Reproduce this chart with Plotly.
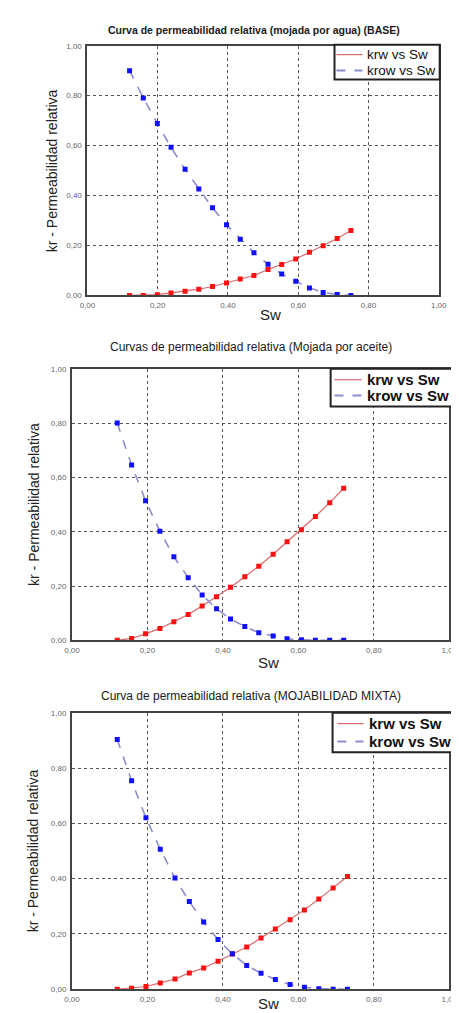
import plotly.graph_objects as go

# ---------------- data ----------------
titles = [
    "Curva de permeabilidad relativa (mojada por agua) (BASE)",
    "Curvas de permeabilidad relativa (Mojada por aceite)",
    "Curva de permeabilidad relativa (MOJABILIDAD MIXTA)",
]

sw_base = [0.120, 0.159, 0.199, 0.238, 0.278, 0.317, 0.356, 0.396, 0.435,
           0.474, 0.514, 0.553, 0.593, 0.632, 0.671, 0.711, 0.750]
krw_base = [0.000, 0.000, 0.003, 0.010, 0.017, 0.025, 0.036, 0.050, 0.066,
            0.080, 0.104, 0.124, 0.146, 0.173, 0.199, 0.228, 0.260]
krow_base = [0.900, 0.791, 0.689, 0.593, 0.505, 0.426, 0.351, 0.283, 0.225,
             0.171, 0.125, 0.086, 0.057, 0.030, 0.012, 0.004, 0.000]

sw_oil = [0.120, 0.158, 0.195, 0.233, 0.270, 0.308, 0.345, 0.383, 0.420,
          0.458, 0.495, 0.533, 0.570, 0.608, 0.645, 0.683, 0.720]
krw_oil = [0.000, 0.007, 0.024, 0.044, 0.069, 0.095, 0.127, 0.161, 0.196,
           0.234, 0.273, 0.317, 0.363, 0.407, 0.456, 0.507, 0.560]
krow_oil = [0.800, 0.646, 0.514, 0.402, 0.308, 0.231, 0.167, 0.116, 0.079,
            0.051, 0.028, 0.016, 0.006, 0.002, 0.000, 0.000, 0.000]

sw_mix = [0.120, 0.158, 0.196, 0.234, 0.273, 0.311, 0.349, 0.387, 0.425,
          0.463, 0.501, 0.539, 0.578, 0.616, 0.654, 0.692, 0.730]
krw_mix = [0.000, 0.004, 0.010, 0.023, 0.037, 0.059, 0.077, 0.101, 0.127,
           0.153, 0.185, 0.218, 0.251, 0.287, 0.326, 0.366, 0.408]
krow_mix = [0.903, 0.754, 0.620, 0.506, 0.402, 0.317, 0.243, 0.180, 0.128,
            0.086, 0.058, 0.035, 0.017, 0.007, 0.002, 0.000, 0.000]

series_names = ["krw vs Sw", "krow vs Sw"]
tick_vals = [0.0, 0.2, 0.4, 0.6, 0.8, 1.0]

datasets = [
    (sw_base, krw_base, krow_base),
    (sw_oil, krw_oil, krow_oil),
    (sw_mix, krw_mix, krow_mix),
]

# ---------------- layout geometry ----------------
W, H = 459, 1013
# pixel boxes: (x0, x1, ytop, ybottom)
boxes = [(74, 438, 34, 286), (58, 449, 360, 634), (58, 449, 707, 986)]
title_pos = [(247, 18), (243, 338), (244, 690)]
title_size = [10.5, 12, 12]
title_weight = ["bold", "normal", "normal"]
sw_label_y = [305, 656, 1000]
ytitle_x = [37, 18, 18]
# legend geometry: box (x0, y0, x1, y1), sample line x0, x1, text x, row ys
legend_box = [(330, 33, 439, 68), (326, 360, 452, 398), (328, 707, 452, 747)]
legend_line_x = [(332, 359), (330, 358), (333, 360)]
legend_text_x = [362, 362, 364]
legend_rows = [(43, 59), (371, 387), (718, 736)]
legend_font = [13.5, 15, 15]
legend_weight = ["normal", "bold", "bold"]

RED = "#ff1010"
RED_LINE = "#d66a6a"
BLUE = "#1010ff"
BLUE_LINE = "#8c8cd0"

fig = go.Figure()
annotations = []
shapes = []


def px(xp):
    return xp / W


def py(yp):
    return 1 - yp / H


for i, (sw, krw, krow) in enumerate(datasets):
    n = "" if i == 0 else str(i + 1)
    xa, ya = "x" + n, "y" + n
    fig.add_trace(go.Scatter(x=sw, y=krw, mode="lines", name=series_names[0],
                             line=dict(color=RED_LINE, width=1.2),
                             xaxis=xa, yaxis=ya, showlegend=False))
    fig.add_trace(go.Scatter(x=sw, y=krow, mode="lines", name=series_names[1],
                             line=dict(color=BLUE_LINE, width=1.6, dash="dash"),
                             xaxis=xa, yaxis=ya, showlegend=False))
    fig.add_trace(go.Scatter(x=sw, y=krw, mode="markers", showlegend=False,
                             name=series_names[0],
                             marker=dict(symbol="square", size=5, color=RED),
                             xaxis=xa, yaxis=ya))
    fig.add_trace(go.Scatter(x=sw, y=krow, mode="markers", showlegend=False,
                             name=series_names[1],
                             marker=dict(symbol="square", size=5, color=BLUE),
                             xaxis=xa, yaxis=ya))

    x0, x1, yt, yb = boxes[i]
    axis_common = dict(range=[0, 1], tickvals=tick_vals, tickformat=".2f",
                       showgrid=True, gridcolor="#555555", griddash="dot",
                       gridwidth=1, showline=True, mirror=True,
                       linecolor="#444444", linewidth=2, zeroline=False,
                       ticks="", tickfont=dict(family="Liberation Sans", size=8,
                                               color="#666666"),
                       fixedrange=True)
    fig.update_layout(**{
        "xaxis" + n: dict(domain=[px(x0), px(x1)], anchor=ya, ticklabelstandoff=1,
                          **axis_common),
        "yaxis" + n: dict(domain=[py(yb), py(yt)], anchor=xa, ticklabelstandoff=2,
                          **axis_common),
    })

    # titles
    tx, ty = title_pos[i]
    annotations.append(dict(text=titles[i], x=px(tx), y=py(ty), xref="paper",
                            yref="paper", showarrow=False, xanchor="center",
                            yanchor="middle",
                            font=dict(family="Liberation Sans", size=title_size[i],
                                      color="#1a1a1a", weight=title_weight[i])))
    annotations.append(dict(text="Sw", x=px((x0 + x1) / 2 + 8), y=py(sw_label_y[i]),
                            xref="paper", yref="paper", showarrow=False,
                            xanchor="center", yanchor="middle",
                            font=dict(family="Liberation Sans", size=15, color="#222222")))
    annotations.append(dict(text="kr - Permeabilidad relativa", x=px(ytitle_x[i]),
                            y=py((yt + yb) / 2), xref="paper", yref="paper",
                            showarrow=False, textangle=-90, xanchor="center",
                            yanchor="middle",
                            font=dict(family="Liberation Sans", size=14, color="#222222")))

    # legend box
    bx0, by0, bx1, by1 = legend_box[i]
    shapes.append(dict(type="rect", xref="paper", yref="paper",
                       x0=px(bx0), x1=px(bx1), y0=py(by1), y1=py(by0),
                       fillcolor="white", line=dict(color="#222222", width=2),
                       layer="above"))
    lx0, lx1 = legend_line_x[i]
    for j, (col, dash, wdt) in enumerate([(RED_LINE, "solid", 1.2),
                                          (BLUE_LINE, "dash", 2.0)]):
        ry = legend_rows[i][j]
        shapes.append(dict(type="line", xref="paper", yref="paper",
                           x0=px(lx0), x1=px(lx1), y0=py(ry), y1=py(ry),
                           line=dict(color=col, width=wdt, dash=dash), layer="above"))
        annotations.append(dict(text=series_names[j], x=px(legend_text_x[i]), y=py(ry),
                                xref="paper", yref="paper", showarrow=False,
                                xanchor="left", yanchor="middle",
                                font=dict(family="Liberation Sans", size=legend_font[i],
                                          color="#111111", weight=legend_weight[i])))

fig.update_layout(width=W, height=H, margin=dict(l=0, r=0, t=0, b=0),
                  paper_bgcolor="white", plot_bgcolor="white",
                  separators=",.", annotations=annotations, shapes=shapes,
                  showlegend=False)

fig.write_html("out.html")
